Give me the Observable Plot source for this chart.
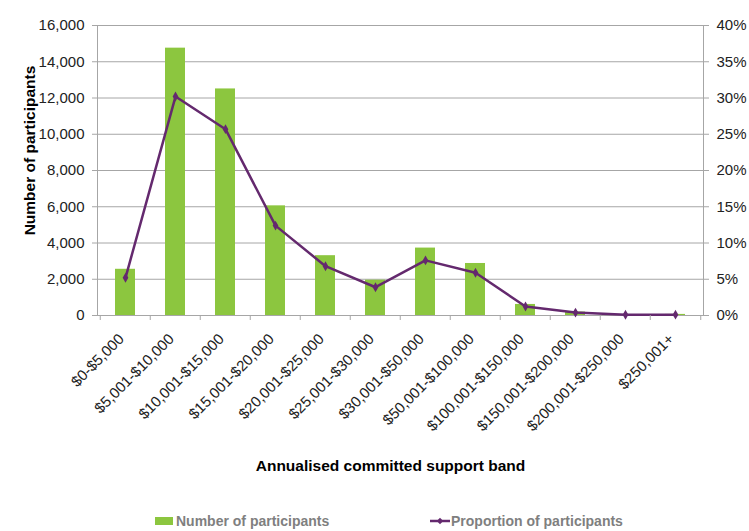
<!DOCTYPE html>
<html>
<head>
<meta charset="utf-8">
<script src="https://cdn.jsdelivr.net/npm/d3@7"></script>
<script src="https://cdn.jsdelivr.net/npm/@observablehq/plot@0.6"></script>
<style>
  html, body { margin: 0; padding: 0; background: #fff; }
  #wrap { position: relative; width: 749px; height: 531px; overflow: hidden; font-family: "Liberation Sans", Arial, sans-serif; }
  #legend { position: absolute; top: 511px; left: 0; width: 749px; height: 20px; font-size: 14px; font-weight: bold; color: #7f7f7f; }
  .li { position: absolute; top: 0; display: flex; align-items: center; height: 20px; }
</style>
</head>
<body>
<div id="wrap">
  <div id="chart"></div>
  <div id="legend">
    <div class="li" style="left:155px"><span style="display:inline-block;width:18px;height:8px;background:#8cc63f;margin-right:3px"></span>Number of participants</div>
    <div class="li" style="left:430px"><svg width="20" height="10" style="margin-right:1px"><line x1="0" y1="5" x2="20" y2="5" stroke="#64296e" stroke-width="2.5"/><path d="M10,1.8L13.2,5L10,8.2L6.8,5Z" fill="#64296e"/></svg>Proportion of participants</div>
  </div>
</div>
<script>
const categories = ["$0-$5,000","$5,001-$10,000","$10,001-$15,000","$15,001-$20,000","$20,001-$25,000","$25,001-$30,000","$30,001-$50,000","$50,001-$100,000","$100,001-$150,000","$150,001-$200,000","$200,001-$250,000","$250,001+"];
const participants = [2550, 14750, 12500, 6050, 3300, 1950, 3720, 2870, 610, 190, 50, 60];
const proportion = [5.2, 30.2, 25.7, 12.4, 6.8, 3.9, 7.6, 5.9, 1.25, 0.4, 0.1, 0.12];
const leftTicks = [0, 2000, 4000, 6000, 8000, 10000, 12000, 14000, 16000];
const rightTicks = [0, 5, 10, 15, 20, 25, 30, 35, 40];

const ratio = 16000 / 40;
const rows = categories.map((c, i) => ({band: c, n: participants[i], p: proportion[i]}));
const green = "#8cc63f", purple = "#64296e", gray = "#a6a6a6";
const W = 749, H = 500, mL = 97, mR = 46, mT = 25, mB = H - 315;
const step = (W - mL - mR) / categories.length;

const chart = Plot.plot({
  width: W, height: H,
  marginLeft: mL, marginRight: mR, marginTop: mT, marginBottom: mB,
  style: {fontFamily: '"Liberation Sans", Arial, sans-serif', fontSize: "15px", color: "#222", background: "#fff"},
  x: {type: "band", domain: categories, paddingInner: 0.6, paddingOuter: 0.3, align: 0.5},
  y: {domain: [0, 16000]},
  marks: [
    Plot.gridY(leftTicks, {stroke: gray, strokeOpacity: 1, strokeWidth: 1}),
    Plot.barY(rows, {x: "band", y: "n", fill: green}),
    Plot.frame({stroke: gray}),
    Plot.line(rows, {x: "band", y: d => d.p * ratio, stroke: purple, strokeWidth: 2.5}),
    Plot.dot(rows, {x: "band", y: d => d.p * ratio, symbol: "diamond", r: 3, fill: purple}),
    Plot.axisY(leftTicks, {anchor: "left", tickSize: 5, tickPadding: 8, stroke: gray, tickFormat: d3.format(","), label: null}),
    Plot.axisY(rightTicks.map(p => p * ratio), {anchor: "right", tickSize: 5, tickPadding: 8, stroke: gray, tickFormat: d => d / ratio + "%", label: null}),
    Plot.axisX(categories, {tickSize: 5, stroke: gray, tickFormat: () => "", dx: -step / 2, label: null}),
    Plot.axisX([categories[categories.length - 1]], {tickSize: 5, stroke: gray, tickFormat: () => "", dx: step / 2, label: null}),
    Plot.axisX(categories, {tickSize: 0, tickPadding: 21, dx: -4, tickRotate: -45, label: null}),
    Plot.text(["Number of participants"], {frameAnchor: "left", textAnchor: "middle", rotate: -90, dx: -67, dy: -20, fontWeight: "bold", fontSize: 15.5, fill: "#000"}),
    Plot.text(["Annualised committed support band"], {frameAnchor: "bottom", dx: -10, dy: 155, fontWeight: "bold", fontSize: 15.5, fill: "#000"})
  ]
});
document.getElementById("chart").appendChild(chart);
</script>
</body>
</html>
